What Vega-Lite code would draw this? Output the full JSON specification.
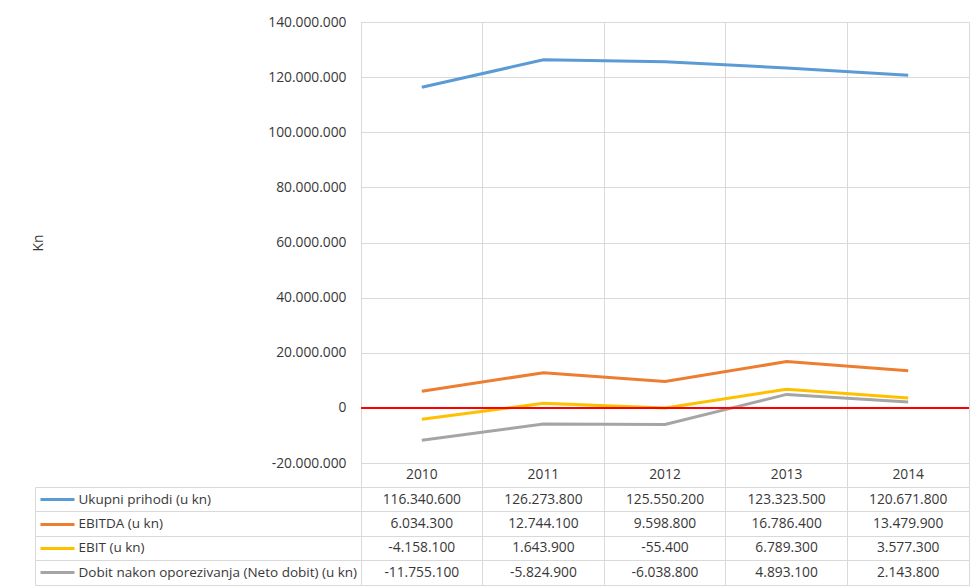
{
  "$schema": "https://vega.github.io/schema/vega-lite/v6.json",
  "padding": {"left": 31, "top": 14, "right": 5, "bottom": 0},
  "background": "white",
  "config": {
    "locale": {"number": {"decimal": ",", "thousands": ".", "grouping": [3], "currency": ["", ""], "minus": "-"}},
    "font": "Open Sans",
    "view": {"stroke": "#d9d9d9"},
    "axis": {"labelFont": "Open Sans", "titleFont": "Open Sans", "labelColor": "#383838", "titleColor": "#383838"}
  },
  "datasets": {
    "fin": [
      {"year": "2010", "series": "Ukupni prihodi (u kn)", "value": 116340600},
      {"year": "2011", "series": "Ukupni prihodi (u kn)", "value": 126273800},
      {"year": "2012", "series": "Ukupni prihodi (u kn)", "value": 125550200},
      {"year": "2013", "series": "Ukupni prihodi (u kn)", "value": 123323500},
      {"year": "2014", "series": "Ukupni prihodi (u kn)", "value": 120671800},
      {"year": "2010", "series": "EBITDA (u kn)", "value": 6034300},
      {"year": "2011", "series": "EBITDA (u kn)", "value": 12744100},
      {"year": "2012", "series": "EBITDA (u kn)", "value": 9598800},
      {"year": "2013", "series": "EBITDA (u kn)", "value": 16786400},
      {"year": "2014", "series": "EBITDA (u kn)", "value": 13479900},
      {"year": "2010", "series": "EBIT (u kn)", "value": -4158100},
      {"year": "2011", "series": "EBIT (u kn)", "value": 1643900},
      {"year": "2012", "series": "EBIT (u kn)", "value": -55400},
      {"year": "2013", "series": "EBIT (u kn)", "value": 6789300},
      {"year": "2014", "series": "EBIT (u kn)", "value": 3577300},
      {"year": "2010", "series": "Dobit nakon oporezivanja (Neto dobit) (u kn)", "value": -11755100},
      {"year": "2011", "series": "Dobit nakon oporezivanja (Neto dobit) (u kn)", "value": -5824900},
      {"year": "2012", "series": "Dobit nakon oporezivanja (Neto dobit) (u kn)", "value": -6038800},
      {"year": "2013", "series": "Dobit nakon oporezivanja (Neto dobit) (u kn)", "value": 4893100},
      {"year": "2014", "series": "Dobit nakon oporezivanja (Neto dobit) (u kn)", "value": 2143800}
    ],
    "years": [
      {"year": "2010", "series": "Godina"},
      {"year": "2011", "series": "Godina"},
      {"year": "2012", "series": "Godina"},
      {"year": "2013", "series": "Godina"},
      {"year": "2014", "series": "Godina"}
    ],
    "zero": [{"value": 0}]
  },
  "spacing": 0,
  "bounds": "flush",
  "vconcat": [
    {
      "width": 608,
      "height": 441,
      "layer": [
        {
          "data": {"name": "fin"},
          "mark": {"type": "line", "strokeWidth": 3},
          "encoding": {
            "x": {
              "field": "year", "type": "ordinal", "bandPosition": 0.5,
              "scale": {"type": "band", "paddingInner": 0, "paddingOuter": 0},
              "axis": {"labels": false, "ticks": false, "domain": false, "grid": true, "bandPosition": 0, "gridColor": "#d9d9d9", "title": null}
            },
            "y": {
              "field": "value", "type": "quantitative",
              "scale": {"domain": [-20000000, 140000000], "nice": false, "zero": false},
              "axis": {
                "values": [-20000000, 0, 20000000, 40000000, 60000000, 80000000, 100000000, 120000000, 140000000],
                "format": ",d", "domain": false, "ticks": false, "labelPadding": 15, "labelFontSize": 13.8,
                "gridColor": "#d9d9d9", "title": "Kn", "titlePadding": 222, "titleFontSize": 13.8, "titleFontWeight": "normal"
              }
            },
            "color": {
              "field": "series", "type": "nominal",
              "scale": {
                "domain": ["Ukupni prihodi (u kn)", "EBITDA (u kn)", "EBIT (u kn)", "Dobit nakon oporezivanja (Neto dobit) (u kn)"],
                "range": ["#5B9BD5", "#ED7D31", "#FFC000", "#A5A5A5"]
              },
              "legend": null
            }
          }
        },
        {
          "data": {"name": "zero"},
          "mark": {"type": "rule", "color": "#FF0000", "strokeWidth": 2},
          "encoding": {"y": {"field": "value", "type": "quantitative"}}
        }
      ]
    },
    {
      "width": 608,
      "height": 122,
      "layer": [
        {
          "data": {"name": "fin"},
          "mark": {"type": "text", "fontSize": 13.8, "color": "#383838", "font": "Open Sans"},
          "encoding": {
            "x": {
              "field": "year", "type": "ordinal", "bandPosition": 0.5,
              "scale": {"type": "band", "paddingInner": 0, "paddingOuter": 0},
              "axis": {"orient": "bottom", "labels": false, "ticks": false, "domain": false, "grid": true, "bandPosition": 0, "gridColor": "#d9d9d9", "title": null}
            },
            "y": {
              "field": "series", "type": "nominal", "bandPosition": 0.5,
              "scale": {"type": "band", "domain": ["Godina", "Ukupni prihodi (u kn)", "EBITDA (u kn)", "EBIT (u kn)", "Dobit nakon oporezivanja (Neto dobit) (u kn)"], "paddingInner": 0, "paddingOuter": 0},
              "axis": {
                "orient": "left", "offset": 287,
                "values": ["Ukupni prihodi (u kn)", "EBITDA (u kn)", "EBIT (u kn)", "Dobit nakon oporezivanja (Neto dobit) (u kn)"],
                "bandPosition": 0.5, "domain": false, "grid": false,
                "tickSize": 34, "tickWidth": 3,
                "tickColor": {"condition": [
                  {"test": "datum.value === 'Ukupni prihodi (u kn)'", "value": "#5B9BD5"},
                  {"test": "datum.value === 'EBITDA (u kn)'", "value": "#ED7D31"},
                  {"test": "datum.value === 'EBIT (u kn)'", "value": "#FFC000"}
                ], "value": "#A5A5A5"},
                "labelAlign": "left", "labelBaseline": "middle", "labelPadding": -38, "labelFontSize": 13.5, "labelLimit": 400,
                "title": null
              }
            },
            "text": {"field": "value", "type": "quantitative", "format": ",d"}
          }
        },
        {
          "data": {"name": "years"},
          "mark": {"type": "text", "fontSize": 13.8, "color": "#383838", "font": "Open Sans"},
          "encoding": {
            "x": {
              "field": "year", "type": "ordinal", "bandPosition": 0.5,
              "axis": {"orient": "bottom", "values": ["2010"], "labels": false, "domain": false, "grid": false, "ticks": true, "bandPosition": 0, "tickOffset": -326, "tickSize": -98, "tickColor": "#d9d9d9", "tickWidth": 1, "title": null}
            },
            "y": {
              "field": "series", "type": "nominal", "bandPosition": 0.5,
              "axis": {
                "orient": "left", "bandPosition": 1, "labels": false, "domain": false,
                "ticks": true, "tickSize": 326, "tickColor": "#d9d9d9", "tickWidth": 1,
                "grid": true, "gridColor": "#d9d9d9", "title": null
              }
            },
            "text": {"field": "year", "type": "nominal"}
          }
        }
      ],
      "resolve": {"axis": {"x": "independent", "y": "independent"}}
    }
  ]
}
